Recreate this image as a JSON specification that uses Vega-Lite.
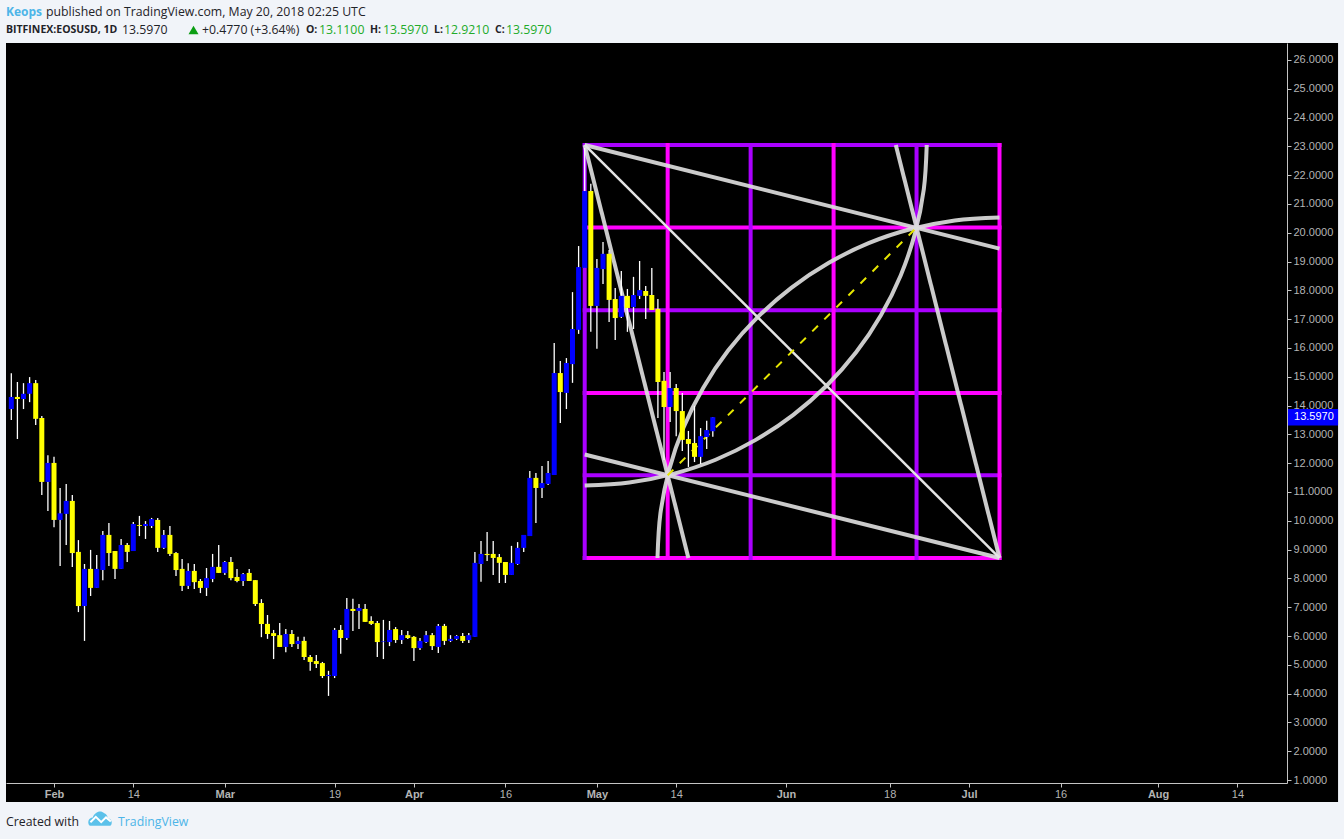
{
"$schema":"https://vega.github.io/schema/vega-lite/v6.json",
"width":1281,"height":740,
"autosize":{"type":"none"},
"padding":{"left":6,"top":43,"right":57,"bottom":56},
"background":"#f1f4f9",
"config":{"view":{"stroke":null},
"axisX":{"grid":false,"title":null,"domainColor":"#c4c4c4","tickColor":"#c4c4c4","tickSize":4,"labelColor":"#b4b4b4","labelFont":"Liberation Sans","labelFontSize":11,"labelPadding":1,"labelOverlap":false,"labelFlush":false},
"axisY":{"grid":false,"title":null,"domainColor":"#c4c4c4","tickColor":"#c4c4c4","tickSize":4,"labelColor":"#b4b4b4","labelFont":"Liberation Sans","labelFontSize":11,"labelPadding":2,"labelOverlap":false}},
"datasets":{
"candles":[
{"date":"2018-01-25","open":13.88,"high":15.12,"low":13.50,"close":14.30},
{"date":"2018-01-26","open":14.30,"high":14.82,"low":12.84,"close":14.23},
{"date":"2018-01-27","open":14.23,"high":14.78,"low":13.88,"close":14.41},
{"date":"2018-01-28","open":14.41,"high":14.99,"low":14.12,"close":14.78},
{"date":"2018-01-29","open":14.78,"high":14.89,"low":13.33,"close":13.54},
{"date":"2018-01-30","open":13.57,"high":13.64,"low":10.90,"close":11.35},
{"date":"2018-01-31","open":11.35,"high":12.28,"low":10.34,"close":12.01},
{"date":"2018-02-01","open":12.01,"high":12.22,"low":9.78,"close":10.03},
{"date":"2018-02-02","open":10.03,"high":11.14,"low":8.43,"close":10.26},
{"date":"2018-02-03","open":10.24,"high":11.28,"low":9.16,"close":10.69},
{"date":"2018-02-04","open":10.69,"high":10.90,"low":8.40,"close":8.88},
{"date":"2018-02-05","open":8.92,"high":9.33,"low":6.83,"close":7.04},
{"date":"2018-02-06","open":7.04,"high":8.50,"low":5.83,"close":8.33},
{"date":"2018-02-07","open":8.33,"high":8.99,"low":7.39,"close":7.67},
{"date":"2018-02-08","open":7.67,"high":8.81,"low":7.67,"close":8.33},
{"date":"2018-02-09","open":8.29,"high":9.65,"low":7.94,"close":9.51},
{"date":"2018-02-10","open":9.51,"high":9.92,"low":8.43,"close":8.88},
{"date":"2018-02-11","open":8.95,"high":8.95,"low":7.98,"close":8.33},
{"date":"2018-02-12","open":8.33,"high":9.37,"low":8.33,"close":9.16},
{"date":"2018-02-13","open":9.16,"high":9.23,"low":8.57,"close":8.92},
{"date":"2018-02-14","open":8.95,"high":9.96,"low":8.95,"close":9.89},
{"date":"2018-02-15","open":9.85,"high":10.17,"low":9.47,"close":9.82},
{"date":"2018-02-16","open":9.82,"high":9.99,"low":9.37,"close":9.89},
{"date":"2018-02-17","open":9.82,"high":10.10,"low":9.75,"close":10.06},
{"date":"2018-02-18","open":10.03,"high":10.10,"low":8.92,"close":9.06},
{"date":"2018-02-19","open":9.06,"high":9.68,"low":9.02,"close":9.51},
{"date":"2018-02-20","open":9.51,"high":9.82,"low":8.78,"close":8.85},
{"date":"2018-02-21","open":8.88,"high":8.92,"low":8.08,"close":8.29},
{"date":"2018-02-22","open":8.33,"high":8.67,"low":7.56,"close":7.74},
{"date":"2018-02-23","open":7.74,"high":8.53,"low":7.63,"close":8.26},
{"date":"2018-02-24","open":8.26,"high":8.50,"low":7.63,"close":7.87},
{"date":"2018-02-25","open":7.91,"high":7.98,"low":7.49,"close":7.67},
{"date":"2018-02-26","open":7.67,"high":8.36,"low":7.39,"close":8.01},
{"date":"2018-02-27","open":7.98,"high":8.85,"low":7.87,"close":8.40},
{"date":"2018-02-28","open":8.40,"high":9.16,"low":8.19,"close":8.19},
{"date":"2018-03-01","open":8.19,"high":8.60,"low":8.12,"close":8.57},
{"date":"2018-03-02","open":8.57,"high":8.74,"low":7.94,"close":8.01},
{"date":"2018-03-03","open":8.05,"high":8.33,"low":7.87,"close":7.91},
{"date":"2018-03-04","open":7.91,"high":8.19,"low":7.74,"close":8.15},
{"date":"2018-03-05","open":8.19,"high":8.33,"low":7.91,"close":7.91},
{"date":"2018-03-06","open":7.94,"high":7.94,"low":7.04,"close":7.11},
{"date":"2018-03-07","open":7.15,"high":7.28,"low":5.96,"close":6.42},
{"date":"2018-03-08","open":6.42,"high":6.73,"low":5.90,"close":6.07},
{"date":"2018-03-09","open":6.10,"high":6.21,"low":5.20,"close":6.00},
{"date":"2018-03-10","open":6.03,"high":6.45,"low":5.62,"close":5.62},
{"date":"2018-03-11","open":5.62,"high":6.24,"low":5.44,"close":6.07},
{"date":"2018-03-12","open":6.07,"high":6.21,"low":5.62,"close":5.72},
{"date":"2018-03-13","open":5.72,"high":5.97,"low":5.55,"close":5.83},
{"date":"2018-03-14","open":5.83,"high":5.97,"low":5.17,"close":5.27},
{"date":"2018-03-15","open":5.27,"high":5.34,"low":4.79,"close":5.10},
{"date":"2018-03-16","open":5.13,"high":5.34,"low":4.89,"close":5.03},
{"date":"2018-03-17","open":5.06,"high":5.10,"low":4.54,"close":4.61},
{"date":"2018-03-18","open":4.61,"high":4.79,"low":3.92,"close":4.65},
{"date":"2018-03-19","open":4.61,"high":6.28,"low":4.54,"close":6.21},
{"date":"2018-03-20","open":6.21,"high":6.38,"low":5.38,"close":5.93},
{"date":"2018-03-21","open":5.93,"high":7.32,"low":5.86,"close":6.94},
{"date":"2018-03-22","open":6.94,"high":7.29,"low":6.17,"close":6.87},
{"date":"2018-03-23","open":6.87,"high":7.11,"low":6.24,"close":6.97},
{"date":"2018-03-24","open":6.94,"high":7.11,"low":6.49,"close":6.49},
{"date":"2018-03-25","open":6.52,"high":6.69,"low":6.38,"close":6.42},
{"date":"2018-03-26","open":6.45,"high":6.52,"low":5.27,"close":5.79},
{"date":"2018-03-27","open":5.79,"high":6.56,"low":5.20,"close":5.81},
{"date":"2018-03-28","open":5.79,"high":6.52,"low":5.65,"close":6.21},
{"date":"2018-03-29","open":6.24,"high":6.31,"low":5.76,"close":5.86},
{"date":"2018-03-30","open":5.86,"high":6.21,"low":5.72,"close":6.03},
{"date":"2018-03-31","open":6.03,"high":6.17,"low":5.90,"close":5.93},
{"date":"2018-04-01","open":5.97,"high":6.00,"low":5.13,"close":5.58},
{"date":"2018-04-02","open":5.58,"high":5.93,"low":5.51,"close":5.83},
{"date":"2018-04-03","open":5.79,"high":6.17,"low":5.76,"close":6.03},
{"date":"2018-04-04","open":6.03,"high":6.10,"low":5.51,"close":5.65},
{"date":"2018-04-05","open":5.62,"high":6.42,"low":5.41,"close":6.35},
{"date":"2018-04-06","open":6.35,"high":6.42,"low":5.69,"close":5.83},
{"date":"2018-04-07","open":5.83,"high":6.03,"low":5.79,"close":5.90},
{"date":"2018-04-08","open":5.90,"high":6.03,"low":5.86,"close":6.00},
{"date":"2018-04-09","open":6.00,"high":6.10,"low":5.76,"close":5.83},
{"date":"2018-04-10","open":5.86,"high":6.10,"low":5.76,"close":6.03},
{"date":"2018-04-11","open":5.97,"high":8.92,"low":5.97,"close":8.54},
{"date":"2018-04-12","open":8.50,"high":9.30,"low":7.88,"close":8.85},
{"date":"2018-04-13","open":8.85,"high":9.61,"low":8.60,"close":8.81},
{"date":"2018-04-14","open":8.85,"high":9.30,"low":8.12,"close":8.71},
{"date":"2018-04-15","open":8.74,"high":8.85,"low":7.84,"close":8.54},
{"date":"2018-04-16","open":8.57,"high":8.57,"low":7.84,"close":8.12},
{"date":"2018-04-17","open":8.12,"high":9.13,"low":8.12,"close":8.54},
{"date":"2018-04-18","open":8.50,"high":9.26,"low":8.47,"close":9.06},
{"date":"2018-04-19","open":9.06,"high":9.51,"low":8.92,"close":9.51},
{"date":"2018-04-20","open":9.47,"high":11.73,"low":9.47,"close":11.49},
{"date":"2018-04-21","open":11.49,"high":11.66,"low":9.92,"close":11.14},
{"date":"2018-04-22","open":11.14,"high":11.90,"low":10.79,"close":11.31},
{"date":"2018-04-23","open":11.28,"high":12.08,"low":11.24,"close":11.66},
{"date":"2018-04-24","open":11.59,"high":16.17,"low":11.59,"close":15.13},
{"date":"2018-04-25","open":15.13,"high":15.55,"low":13.40,"close":14.47},
{"date":"2018-04-26","open":14.44,"high":15.65,"low":13.88,"close":15.48},
{"date":"2018-04-27","open":15.44,"high":17.94,"low":14.79,"close":16.66},
{"date":"2018-04-28","open":16.63,"high":19.54,"low":16.49,"close":18.81},
{"date":"2018-04-29","open":18.78,"high":22.95,"low":18.78,"close":21.45},
{"date":"2018-04-30","open":21.45,"high":21.70,"low":16.56,"close":17.46},
{"date":"2018-05-01","open":17.46,"high":19.09,"low":15.97,"close":18.78},
{"date":"2018-05-02","open":18.74,"high":19.68,"low":18.22,"close":19.27},
{"date":"2018-05-03","open":19.27,"high":19.40,"low":16.90,"close":17.67},
{"date":"2018-05-04","open":17.70,"high":18.08,"low":16.28,"close":17.04},
{"date":"2018-05-05","open":17.08,"high":18.67,"low":17.04,"close":17.81},
{"date":"2018-05-06","open":17.81,"high":18.05,"low":16.56,"close":17.39},
{"date":"2018-05-07","open":17.42,"high":18.47,"low":16.66,"close":17.84},
{"date":"2018-05-08","open":17.81,"high":19.02,"low":17.70,"close":18.01},
{"date":"2018-05-09","open":17.98,"high":18.15,"low":17.01,"close":17.81},
{"date":"2018-05-10","open":17.84,"high":18.78,"low":17.32,"close":17.32},
{"date":"2018-05-11","open":17.36,"high":17.70,"low":13.57,"close":14.82},
{"date":"2018-05-12","open":14.86,"high":15.17,"low":12.11,"close":13.95},
{"date":"2018-05-13","open":13.95,"high":15.17,"low":13.43,"close":14.61},
{"date":"2018-05-14","open":14.61,"high":14.75,"low":12.94,"close":13.81},
{"date":"2018-05-15","open":13.81,"high":14.44,"low":12.42,"close":12.81},
{"date":"2018-05-16","open":12.84,"high":13.12,"low":11.87,"close":12.67},
{"date":"2018-05-17","open":12.70,"high":13.99,"low":12.04,"close":12.22},
{"date":"2018-05-18","open":12.22,"high":13.22,"low":11.97,"close":12.94},
{"date":"2018-05-19","open":12.91,"high":13.47,"low":12.49,"close":13.15},
{"date":"2018-05-20","open":13.11,"high":13.597,"low":12.921,"close":13.597}
],
"grid":[
{"tone":"purple","date":"2018-04-29","date2":"2018-07-06","price":23.05,"price2":23.05},
{"tone":"magenta","date":"2018-04-29","date2":"2018-07-06","price":20.18,"price2":20.18},
{"tone":"purple","date":"2018-04-29","date2":"2018-07-06","price":17.31,"price2":17.31},
{"tone":"magenta","date":"2018-04-29","date2":"2018-07-06","price":14.44,"price2":14.44},
{"tone":"purple","date":"2018-04-29","date2":"2018-07-06","price":11.58,"price2":11.58},
{"tone":"magenta","date":"2018-04-29","date2":"2018-07-06","price":8.71,"price2":8.71},
{"tone":"purple","date":"2018-04-29","date2":"2018-04-29","price":8.71,"price2":23.05},
{"tone":"magenta","date":"2018-05-12T14:24:00Z","date2":"2018-05-12T14:24:00Z","price":8.71,"price2":23.05},
{"tone":"purple","date":"2018-05-26T04:48:00Z","date2":"2018-05-26T04:48:00Z","price":8.71,"price2":23.05},
{"tone":"magenta","date":"2018-06-08T19:12:00Z","date2":"2018-06-08T19:12:00Z","price":8.71,"price2":23.05},
{"tone":"purple","date":"2018-06-22T09:36:00Z","date2":"2018-06-22T09:36:00Z","price":8.71,"price2":23.05},
{"tone":"magenta","date":"2018-07-06","date2":"2018-07-06","price":8.71,"price2":23.05}
],
"fan":[
{"date":"2018-04-29","date2":"2018-07-06","price":23.05,"price2":19.45},
{"date":"2018-04-29","date2":"2018-05-16T00:00:00Z","price":23.05,"price2":8.71},
{"date":"2018-07-06","date2":"2018-04-29","price":8.71,"price2":12.3},
{"date":"2018-07-06","date2":"2018-06-19","price":8.71,"price2":23.05}
],
"arcs":[
{"arc":"lower-right","date":"2018-05-10T22:19:00Z","price":8.71},
{"arc":"lower-right","date":"2018-05-11T09:50:00Z","price":10.25},
{"arc":"lower-right","date":"2018-05-12T20:10:00Z","price":11.77},
{"arc":"lower-right","date":"2018-05-15T04:48:00Z","price":13.24},
{"arc":"lower-right","date":"2018-05-18T10:34:00Z","price":14.62},
{"arc":"lower-right","date":"2018-05-22T12:14:00Z","price":15.91},
{"arc":"lower-right","date":"2018-05-27T08:24:00Z","price":17.07},
{"arc":"lower-right","date":"2018-06-01T20:38:00Z","price":18.09},
{"arc":"lower-right","date":"2018-06-07T23:02:00Z","price":18.95},
{"arc":"lower-right","date":"2018-06-14T12:58:00Z","price":19.64},
{"arc":"lower-right","date":"2018-06-21T11:46:00Z","price":20.13},
{"arc":"lower-right","date":"2018-06-28T16:19:00Z","price":20.43},
{"arc":"lower-right","date":"2018-07-06T00:00:00Z","price":20.535},
{"arc":"upper-left","date":"2018-06-24T01:41:00Z","price":23.05},
{"arc":"upper-left","date":"2018-06-23T14:10:00Z","price":21.51},
{"arc":"upper-left","date":"2018-06-22T03:50:00Z","price":19.99},
{"arc":"upper-left","date":"2018-06-19T19:12:00Z","price":18.52},
{"arc":"upper-left","date":"2018-06-16T13:26:00Z","price":17.14},
{"arc":"upper-left","date":"2018-06-12T11:46:00Z","price":15.85},
{"arc":"upper-left","date":"2018-06-07T15:36:00Z","price":14.69},
{"arc":"upper-left","date":"2018-06-02T03:22:00Z","price":13.67},
{"arc":"upper-left","date":"2018-05-27T00:58:00Z","price":12.81},
{"arc":"upper-left","date":"2018-05-20T11:02:00Z","price":12.12},
{"arc":"upper-left","date":"2018-05-13T12:14:00Z","price":11.63},
{"arc":"upper-left","date":"2018-05-06T07:41:00Z","price":11.33},
{"arc":"upper-left","date":"2018-04-29T00:00:00Z","price":11.225}
]
},
"encoding":{
"x":{"field":"date","type":"temporal","title":null,
 "scale":{"type":"utc","padding":0,"domain":["2018-01-24T03:07:00Z","2018-08-22T03:07:00Z"]},
 "axis":{"orient":"bottom","zindex":1,
  "values":["2018-02-01","2018-02-14","2018-03-01","2018-03-19","2018-04-01","2018-04-16","2018-05-01","2018-05-14","2018-06-01","2018-06-18","2018-07-01","2018-07-16","2018-08-01","2018-08-14"],
  "labelExpr":"utcdate(datum.value)==1 ? utcFormat(datum.value,'%b') : utcFormat(datum.value,'%-d')",
  "labelFontWeight":{"condition":{"test":"utcdate(datum.value)==1","value":"bold"},"value":"normal"}}},
"y":{"field":"price","type":"quantitative","title":null,
 "scale":{"domain":[0.896,26.59],"zero":false,"nice":false},
 "axis":{"orient":"right","zindex":1,"format":".4f",
  "values":[1,2,3,4,5,6,7,8,9,10,11,12,13,14,15,16,17,18,19,20,21,22,23,24,25,26]}}
},
"layer":[
{"data":{"values":[{"date":"2018-01-24T03:07:00Z","date2":"2018-08-30T12:00:00Z","price":26.59,"price2":0.236}]},
 "mark":{"type":"rect","color":"#000000","clip":false},
 "encoding":{"x2":{"field":"date2"},"y2":{"field":"price2"}}},
{"data":{"name":"grid"},
 "mark":{"type":"rule","strokeWidth":4,"strokeCap":"square"},
 "encoding":{"x2":{"field":"date2"},"y2":{"field":"price2"},
  "color":{"field":"tone","type":"nominal","legend":null,"scale":{"domain":["purple","magenta"],"range":["#aa00ff","#ff00ff"]}}}},
{"data":{"name":"fan"},
 "mark":{"type":"rule","strokeWidth":4,"color":"#dcdcdc","opacity":0.92},
 "encoding":{"x2":{"field":"date2"},"y2":{"field":"price2"}}},
{"data":{"values":[{"date":"2018-04-29","date2":"2018-07-06","price":23.05,"price2":8.71}]},
 "mark":{"type":"rule","strokeWidth":2.5,"color":"#e4e4e4"},
 "encoding":{"x2":{"field":"date2"},"y2":{"field":"price2"}}},
{"data":{"name":"arcs"},
 "mark":{"type":"line","strokeWidth":4,"color":"#dcdcdc","opacity":0.92,"interpolate":"catmull-rom"},
 "encoding":{"detail":{"field":"arc"},"order":{"field":"date","type":"temporal"}}},
{"data":{"values":[{"date":"2018-05-12T14:24:00Z","date2":"2018-06-22T09:36:00Z","price":11.58,"price2":20.18}]},
 "mark":{"type":"rule","strokeWidth":2,"color":"#e6e600","strokeDash":[8,9]},
 "encoding":{"x2":{"field":"date2"},"y2":{"field":"price2"}}},
{"data":{"name":"candles"},
 "mark":{"type":"rule","strokeWidth":1.3,"color":"#ffffff"},
 "encoding":{"y":{"field":"low","type":"quantitative","title":null,"scale":{"domain":[0.896,26.59],"zero":false,"nice":false},"axis":{"orient":"right","zindex":1,"format":".4f","values":[1,2,3,4,5,6,7,8,9,10,11,12,13,14,15,16,17,18,19,20,21,22,23,24,25,26]}},"y2":{"field":"high"}}},
{"data":{"name":"candles"},
 "mark":{"type":"bar","size":5},
 "encoding":{"y":{"field":"open","type":"quantitative","title":null,"scale":{"domain":[0.896,26.59],"zero":false,"nice":false},"axis":{"orient":"right","zindex":1,"format":".4f","values":[1,2,3,4,5,6,7,8,9,10,11,12,13,14,15,16,17,18,19,20,21,22,23,24,25,26]}},"y2":{"field":"close"},
  "fill":{"condition":{"test":"datum.close >= datum.open","value":"#0000ff"},"value":"#ffff00"}}},
{"data":{"values":[{"date":"2018-08-22T03:07:00Z","date2":"2018-08-30T12:00:00Z","price":13.31,"price2":13.88}]},
 "mark":{"type":"rect","color":"#0000ff","clip":false},
 "encoding":{"x2":{"field":"date2"},"y2":{"field":"price2"}}},
{"data":{"values":[{"date":"2018-08-23T06:43:00Z","price":13.597,"label":"13.5970"}]},
 "mark":{"type":"text","align":"left","baseline":"middle","color":"#ffffff","font":"Liberation Sans","fontSize":11,"clip":false},
 "encoding":{"text":{"field":"label"}}},
{"data":{"values":[{"date":"2018-01-24T03:07:00Z","price":27.667,"label":"Keops"}]},
 "mark":{"type":"text","align":"left","baseline":"middle","color":"#4db5e8","font":"Open Sans","fontSize":12,"fontWeight":"bold","clip":false},
 "encoding":{"text":{"field":"label"}}},
{"data":{"values":[{"date":"2018-01-30T16:33:00Z","price":27.667,"label":"published on TradingView.com, May 20, 2018 02:25 UTC"},{"date":"2018-02-12T03:36:00Z","price":27.04,"label":"13.5970"},{"date":"2018-02-25T06:14:00Z","price":27.04,"label":"+0.4770 (+3.64%)"},{"date":"2018-01-24T03:07:00Z","price":-0.458,"label":"Created with"}]},
 "mark":{"type":"text","align":"left","baseline":"middle","color":"#1f2328","font":"Open Sans","fontSize":12.3,"clip":false},
 "encoding":{"text":{"field":"label"}}},
{"data":{"values":[{"date":"2018-01-24T03:07:00Z","price":27.04,"label":"BITFINEX:EOSUSD, 1D"},{"date":"2018-03-14T07:26:00Z","price":27.04,"label":"O:"},{"date":"2018-03-24T19:12:00Z","price":27.04,"label":"H:"},{"date":"2018-04-04T07:12:00Z","price":27.04,"label":"L:"},{"date":"2018-04-14T07:12:00Z","price":27.04,"label":"C:"}]},
 "mark":{"type":"text","align":"left","baseline":"middle","color":"#1f2328","font":"Open Sans","fontSize":10.5,"fontWeight":"bold","clip":false},
 "encoding":{"text":{"field":"label"}}},
{"data":{"values":[{"date":"2018-03-16T10:34:00Z","price":27.04,"label":"13.1100"},{"date":"2018-03-26T22:19:00Z","price":27.04,"label":"13.5970"},{"date":"2018-04-05T22:19:00Z","price":27.04,"label":"12.9210"},{"date":"2018-04-16T02:24:00Z","price":27.04,"label":"13.5970"}]},
 "mark":{"type":"text","align":"left","baseline":"middle","color":"#22ab2a","font":"Open Sans","fontSize":12.3,"clip":false},
 "encoding":{"text":{"field":"label"}}},
{"data":{"values":[{"date":"2018-02-23T20:53:00Z","price":27.04}]},
 "mark":{"type":"point","shape":"triangle-up","filled":true,"color":"#0b9e13","size":100,"opacity":1,"clip":false},
 "encoding":{}},
{"data":{"values":[{"date":"2018-02-08T12:58:00Z","price":-0.34}]},
 "mark":{"type":"point","filled":true,"color":"#5cc1ea","opacity":1,"size":576,"clip":false,"shape":"M-0.85,0.6 C-1.1,0.35 -0.95,-0.1 -0.6,-0.1 C-0.45,-0.5 0,-0.75 0.35,-0.45 C0.65,-0.35 0.6,-0.1 0.65,-0.05 C1.05,0.05 1.05,0.5 0.85,0.6 Z"},
 "encoding":{}},
{"data":{"values":[{"date":"2018-02-08T12:58:00Z","price":-0.34}]},
 "mark":{"type":"point","filled":false,"color":"#ffffff","opacity":1,"size":576,"strokeWidth":2,"clip":false,"shape":"M-0.8,0.3 L-0.35,-0.15 L0.1,0.3 L0.5,-0.1 L0.9,0.25"},
 "encoding":{}},
{"data":{"values":[{"date":"2018-02-11T11:46:00Z","price":-0.458,"label":"TradingView"}]},
 "mark":{"type":"text","align":"left","baseline":"middle","color":"#4db5e8","font":"Open Sans","fontSize":12.3,"clip":false},
 "encoding":{"text":{"field":"label"}}}
]
}
